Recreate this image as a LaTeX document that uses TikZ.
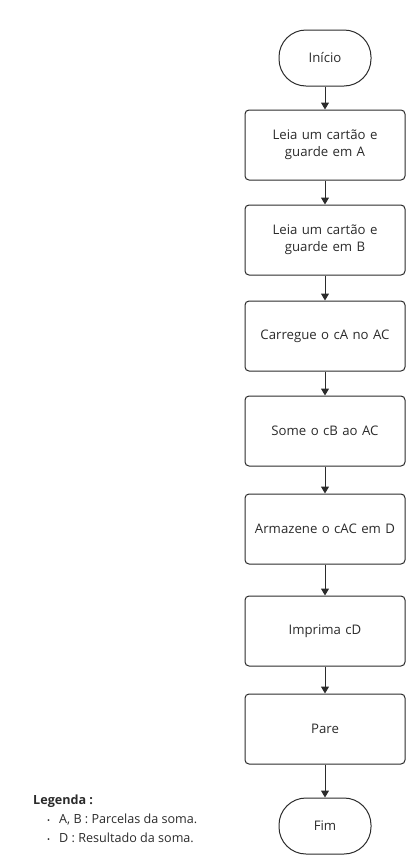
\documentclass[tikz,border=0pt]{standalone}
\usepackage{fontspec}
\setmainfont{Open Sans}
\usetikzlibrary{positioning,arrows.meta}
\definecolor{clline}{HTML}{2B2B2B}
\begin{document}
\begin{tikzpicture}[x=1pt, y=1pt, node distance = 24pt, font=\fontsize{13.2}{17}\selectfont, text=clline]
        \tikzstyle{terminal} = [draw=clline, line width=1pt, rounded corners=27pt, minimum width=92pt, minimum height=56pt, text centered, inner sep=0pt]
        \tikzstyle{stepbox} = [draw=clline, line width=1pt, rounded corners=4pt, minimum width=160pt, minimum height=70pt, text width=155pt, align=center, inner sep=0pt]
        \tikzstyle{flow} = [draw=clline, line width=1pt, -{Triangle[width=8pt,length=7pt]}]
        \tikzstyle{legitem} = [anchor=west, inner sep=0pt, font=\fontsize{12.6}{16}\selectfont]
    \useasboundingbox (0,0) rectangle (417,-865);
    \node[terminal] (inicio) at (325,-58) {Início};
    \node[stepbox, below=23pt of inicio] (lerA) {Leia um cartão e\\guarde em A};
    \node[stepbox, below=of lerA] (lerB) {Leia um cartão e\\guarde em B};
    \node[stepbox, below=25pt of lerB] (carregue) {Carregue o cA no AC};
    \node[stepbox, below=of carregue] (some) {Some o cB ao AC};
    \node[stepbox, below=27pt of some] (armazene) {Armazene o cAC em D};
    \node[stepbox, below=31pt of armazene] (imprima) {Imprima cD};
    \node[stepbox, below=27pt of imprima] (pare) {Pare};
    \node[terminal, below=33pt of pare] (fim) {Fim};

    \foreach \a/\b in {inicio/lerA, lerA/lerB, lerB/carregue, carregue/some,
                       some/armazene, armazene/imprima, imprima/pare, pare/fim}
        \draw[flow] (\a) -- (\b);

    % legenda
    \node[legitem] (legenda) at (33,-801) {\bfseries Legenda :};
    \node[legitem] (legAB) at (47,-820) {{\footnotesize\textbullet}\hspace{9pt}A, B : Parcelas da soma.};
    \node[legitem] (legD) at (47,-838) {{\footnotesize\textbullet}\hspace{9pt}D : Resultado da soma.};
\end{tikzpicture}
\end{document}
